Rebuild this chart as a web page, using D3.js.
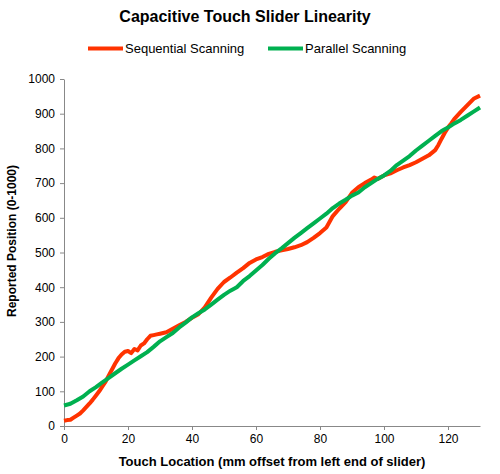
<!DOCTYPE html>
<html>
<head>
<meta charset="utf-8">
<script src="https://cdn.jsdelivr.net/npm/d3@7"></script>
<style>
  body { margin: 0; background: #fff; }
  text { font-family: "Liberation Sans", Arial, sans-serif; }
</style>
</head>
<body>
<svg id="chart" width="500" height="474"></svg>
<script>
// touch location (mm) and reported position
const seqX = [0, 1, 2, 3, 4, 5, 6, 7, 8, 9, 10, 11, 12, 13, 14, 15, 16, 17, 18, 19, 20, 21, 22, 23, 24, 25, 26, 27, 28, 29, 30, 32, 34, 36, 38, 40, 42, 44, 46, 48, 50, 52, 54, 56, 58, 60, 62, 64, 66, 68, 70, 72, 74, 76, 78, 80, 82, 84, 86, 88, 90, 92, 94, 96, 97, 98, 100, 102, 104, 106, 108, 110, 112, 114, 116, 117, 118, 119, 120, 121, 122, 124, 126, 128, 130]
const seqY = [15, 17, 18, 24, 30, 36, 45, 55, 65, 76, 88, 100, 114, 128, 146, 163, 180, 195, 206, 214, 216, 210, 222, 218, 232, 238, 250, 260, 262, 264, 266, 270, 280, 290, 300, 312, 322, 342, 370, 395, 415, 428, 442, 455, 470, 480, 487, 496, 502, 506, 510, 515, 521, 530, 542, 556, 572, 605, 626, 645, 672, 688, 700, 710, 716, 712, 722, 728, 737, 745, 752, 760, 770, 780, 795, 810, 828, 845, 860, 872, 885, 905, 924, 943, 952]

const parX = [0, 2, 4, 6, 8, 10, 12, 14, 16, 18, 20, 22, 24, 26, 28, 30, 32, 34, 36, 38, 40, 42, 44, 46, 48, 50, 52, 54, 56, 58, 60, 62, 64, 66, 68, 70, 72, 74, 76, 78, 80, 82, 84, 86, 88, 90, 92, 94, 96, 98, 100, 102, 104, 106, 108, 110, 112, 114, 116, 118, 120, 122, 124, 126, 128, 130]
const parY = [59, 64, 74, 85, 100, 112, 126, 139, 152, 165, 177, 189, 201, 213, 228, 244, 256, 268, 284, 298, 313, 325, 336, 350, 364, 378, 390, 400, 418, 432, 448, 464, 482, 498, 512, 527, 542, 556, 570, 584, 598, 612, 628, 641, 652, 664, 673, 688, 700, 712, 722, 735, 752, 765, 778, 794, 808, 822, 836, 850, 860, 872, 882, 894, 906, 918]

const seriesNames = ['Sequential Scanning', 'Parallel Scanning']
const seriesColors = ['#ff3300', '#00b050']
const xTicks = [0, 20, 40, 60, 80, 100, 120]
const yTicks = [0, 100, 200, 300, 400, 500, 600, 700, 800, 900, 1000]

const margin = {top: 79, right: 20, bottom: 48, left: 64}
const width = 480 - margin.left
const height = 426 - margin.top

const svg = d3.select('#chart')
const g = svg.append('g')
  .attr('transform', 'translate(' + margin.left + ',' + margin.top + ')')

const x = d3.scaleLinear().domain([0, 130]).range([0, width])
const y = d3.scaleLinear().domain([0, 1000]).range([height, 0])

// axes
const xAxis = g.append('g')
  .attr('transform', 'translate(0,' + height + ')')
  .call(d3.axisBottom(x).tickValues(xTicks).tickFormat(d3.format('d')).tickSize(4).tickSizeOuter(0).tickPadding(4))
const yAxis = g.append('g')
  .call(d3.axisLeft(y).tickValues(yTicks).tickFormat(d3.format('d')).tickSize(4).tickSizeOuter(0).tickPadding(5))

;[xAxis, yAxis].forEach(function(a) {
  a.select('.domain').attr('stroke', '#888')
  a.selectAll('.tick line').attr('stroke', '#888')
  a.selectAll('.tick text')
    .attr('fill', '#000')
    .style('font-size', '12px')
    .style('font-family', '"Liberation Sans", Arial, sans-serif')
})

// lines
const line = d3.line()
  .x(function(d) { return x(d[0]) })
  .y(function(d) { return y(d[1]) })

const seqData = seqX.map(function(v, i) { return [v, seqY[i]] })
const parData = parX.map(function(v, i) { return [v, parY[i]] })

;[seqData, parData].forEach(function(data, i) {
  g.append('path')
    .datum(data)
    .attr('fill', 'none')
    .attr('stroke', seriesColors[i])
    .attr('stroke-width', 4)
    .attr('stroke-linejoin', 'round')
    .attr('d', line)
})

// title
svg.append('text')
  .attr('x', 245)
  .attr('y', 22)
  .attr('text-anchor', 'middle')
  .style('font-size', '16px')
  .style('font-weight', 'bold')
  .text('Capacitive Touch Slider Linearity')

// legend
const legendX = [88, 268]
seriesNames.forEach(function(name, i) {
  svg.append('line')
    .attr('x1', legendX[i]).attr('x2', legendX[i] + 35)
    .attr('y1', 48.5).attr('y2', 48.5)
    .attr('stroke', seriesColors[i])
    .attr('stroke-width', 4)
  svg.append('text')
    .attr('x', legendX[i] + 37)
    .attr('y', 53)
    .style('font-size', '13px')
    .text(name)
})

// axis titles
svg.append('text')
  .attr('x', 272)
  .attr('y', 466)
  .attr('text-anchor', 'middle')
  .style('font-size', '13px')
  .style('font-weight', 'bold')
  .text('Touch Location (mm offset from left end of slider)')

svg.append('text')
  .attr('transform', 'translate(16,' + 241 + ') rotate(-90)')
  .attr('text-anchor', 'middle')
  .style('font-size', '12px')
  .style('font-weight', 'bold')
  .text('Reported Position (0-1000)')
</script>
</body>
</html>
